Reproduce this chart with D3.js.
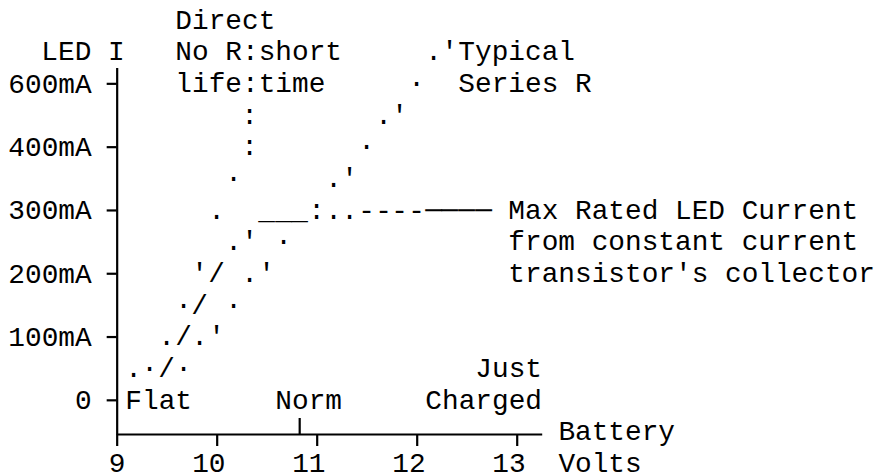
<!DOCTYPE html>
<html>
<head>
<meta charset="utf-8">
<script src="https://cdn.jsdelivr.net/npm/d3@7"></script>
<style>
	body { margin: 0; background: #fff; }
	text { font-family: 'Liberation Mono', 'Courier New', monospace; }
</style>
</head>
<body>
<div id="plot"></div>
<script>
// LED CURRENT vs BATTERY VOLTS (ascii style)
var w = 882;
var h = 476;
var fs = 27.78;        // font size
var cw = fs * 0.6;     // one monospace cell
var base = 8.7;        // baseline below row centre

// Axis ticks
var voltTicks = [9, 10, 11, 12, 13];
var currentTicks = [0, 100, 200, 300, 400, 600];
var currentLabels = ['0', '100mA', '200mA', '300mA', '400mA', '600mA'];
var normTickV = [10.83];

// Direct, no resistor
var directV = [9.17, 9.33, 9.5, 9.67, 9.83, 10, 10.17, 10.33, 10.33];
var directI = [50, 50, 100, 150, 200, 300, 350, 400, 500];
var directGlyph = ['.', '·', '.', '·', "'", '.', '·', ':', ':'];

// Constant current transistor, flattens at max rated current
var ccsV = [9.5, 9.67, 9.83, 10, 10.17, 10.33, 10.5, 10.67, 10.83, 11, 11.17, 11.33, 11.5, 11.67, 11.83, 12, 12.17, 12.33, 12.5, 12.67];
var ccsI = [50, 100, 150, 200, 250, 250, 300, 300, 300, 300, 300, 300, 300, 300, 300, 300, 300, 300, 300, 300];
var ccsGlyph = ['/', '/', '/', '/', '.', "'", '_', '_', '_', ':', '.', '.', '-', '-', '-', '-', '─', '─', '─', '─'];

// Typical series resistor
var seriesV = [9.67, 9.83, 10, 10.17, 10.33, 10.5, 10.67, 11.17, 11.33, 11.5, 11.67, 11.83, 12, 12.17, 12.33];
var seriesI = [50, 100, 100, 150, 200, 200, 250, 350, 350, 400, 500, 500, 600, 700, 700];
var seriesGlyph = ['·', '.', "'", '·', '.', "'", '·', '.', "'", '·', '.', "'", '·', '.', "'"];

// Annotation text, anchored at first character
var noteText = ['LED I', 'Direct', 'No R:short', 'life:time', 'Typical', 'Series R',
	'Max Rated LED Current', 'from constant current', "transistor's collector",
	'Flat', 'Norm', 'Just', 'Charged', 'Battery', 'Volts'];
var noteV = [8.33, 9.67, 9.67, 9.67, 12.5, 12.5, 13, 13, 13, 9.17, 10.67, 12.67, 12.17, 13.5, 13.5];
var noteI = [700, 800, 700, 600, 700, 600, 300, 250, 200, 0, 0, 50, 0, -50, -100];

var svg = d3.select('#plot').append('svg')
	.attr('width', w)
	.attr('height', h);

var x = d3.scaleLinear().domain([9, 13.25]).range([7 * cw, 32.5 * cw]);
var y = d3.scaleLinear().domain([-54, 400, 650]).range([434, 146.67, 67.5]);

// axes
var yAxis = svg.append('g')
	.attr('transform', 'translate(' + x(9) + ',0)')
	.call(d3.axisLeft(y)
		.tickValues(currentTicks)
		.tickFormat(function (d, i) { return currentLabels[i]; })
		.tickSize(10)
		.tickPadding(15)
		.tickSizeOuter(0));

var xAxis = svg.append('g')
	.attr('transform', 'translate(0,' + y(-54) + ')')
	.call(d3.axisBottom(x)
		.tickValues(voltTicks)
		.tickFormat(d3.format('d'))
		.tickSize(12)
		.tickSizeOuter(0));

svg.selectAll('.domain, .tick line')
	.attr('stroke', '#000')
	.attr('stroke-width', 2.2);

svg.selectAll('.tick text')
	.attr('font-family', "'Liberation Mono', 'Courier New', monospace")
	.attr('font-size', fs)
	.attr('fill', '#000');

xAxis.attr('font-size', fs);
yAxis.attr('font-size', fs);

xAxis.selectAll('.tick text')
	.attr('text-anchor', 'end')
	.attr('x', cw / 2)
	.attr('y', 38)
	.attr('dy', null);

// "Norm" marker above the axis
svg.selectAll('line.norm')
	.data(normTickV)
	.enter()
	.append('line')
	.attr('class', 'norm')
	.attr('x1', function (d) { return x(d); })
	.attr('x2', function (d) { return x(d); })
	.attr('y1', y(-54))
	.attr('y2', y(-54) - 16)
	.attr('stroke', '#000')
	.attr('stroke-width', 2.2);

// curves, one glyph per point
function drawGlyphs (cls, vs, is, gs) {
	svg.selectAll('text.' + cls)
		.data(vs)
		.enter()
		.append('text')
		.attr('class', cls)
		.text(function (d, i) { return gs[i]; })
		.attr('x', function (d) { return x(d); })
		.attr('y', function (d, i) { return y(is[i]) + base; })
		.attr('font-size', fs)
		.attr('fill', '#000')
		.attr('text-anchor', 'middle');
}

drawGlyphs('direct', directV, directI, directGlyph);
drawGlyphs('ccs', ccsV, ccsI, ccsGlyph);
drawGlyphs('series', seriesV, seriesI, seriesGlyph);

// notes
svg.selectAll('text.note')
	.data(noteText)
	.enter()
	.append('text')
	.attr('class', 'note')
	.text(function (d) { return d; })
	.attr('x', function (d, i) { return x(noteV[i]) - cw / 2; })
	.attr('y', function (d, i) { return y(noteI[i]) + base; })
	.attr('font-size', fs)
	.attr('fill', '#000')
	.attr('xml:space', 'preserve')
	.style('white-space', 'pre');
</script>
</body>
</html>
